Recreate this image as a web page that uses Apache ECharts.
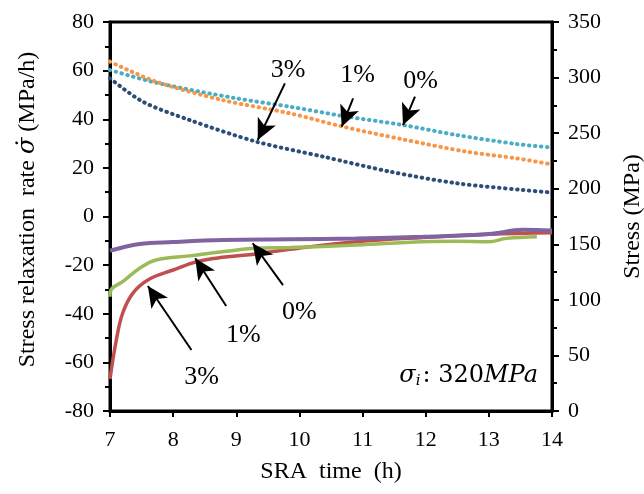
<!DOCTYPE html>
<html><head><meta charset="utf-8">
<script src="https://cdn.jsdelivr.net/npm/echarts@6/dist/echarts.min.js"></script>
<style>html,body{margin:0;padding:0;background:#fff}#c{width:644px;height:494px}</style>
</head><body><div id="c"></div>
<script>
// Stress (right axis, MPa) vs SRA time (h) — dotted series
const stress0 = [[7.0,306.8],[7.73,295.4],[9.0,281.3],[9.85,273.8],[10.69,265.4],[11.64,257.3],[12.49,248.3],[13.44,240.2],[13.95,237.3]];
const stress1 = [[7.0,314.3],[7.73,296.3],[8.78,279.8],[9.85,267.8],[10.69,255.8],[11.64,244.4],[12.65,233.3],[13.44,227.3],[13.97,222.2]];
const stress3 = [[7.0,299.3],[7.52,278.3],[8.26,261.8],[9.32,242.3],[10.38,228.8],[11.44,215.3],[12.49,204.9],[13.54,198.8],[13.97,196.7]];
// Stress relaxation rate (left axis, MPa/h) — solid series
const rate0 = [[7.0,-14.1],[7.47,-11.3],[8.0,-10.5],[8.8,-9.7],[9.85,-9.4],[10.9,-9.0],[11.96,-8.3],[13.0,-7.2],[13.54,-5.5],[14.0,-5.8]];
const rate1 = [[7.0,-33.0],[7.02,-30.0],[7.2,-26.8],[7.47,-21.3],[7.73,-17.9],[8.26,-16.2],[8.78,-14.5],[9.32,-13.1],[9.85,-12.8],[10.9,-11.7],[11.96,-10.4],[12.49,-10.2],[13.0,-10.4],[13.28,-9.0],[13.76,-8.3]];
const rate3 = [[7.0,-66.8],[7.1,-50.8],[7.2,-39.8],[7.36,-31.6],[7.6,-26.1],[8.0,-22.0],[8.37,-18.6],[8.78,-16.8],[9.32,-15.4],[9.85,-13.5],[10.9,-10.4],[11.96,-8.6],[13.0,-7.3],[14.0,-6.7]];
// Annotation arrows (data coordinates): [fromX, fromY, toX, toY]
const arrowsStress = [[9.77,294.8,9.34,243.8],[10.85,281.3,10.67,255.8],[11.83,282.8,11.64,257.3]];
const labelsStress = [['3%',9.82,307],['1%',10.92,302],['0%',11.92,297]];
const arrowsRate = [[9.74,-28.2,9.26,-11.0],[8.84,-36.8,8.35,-17.2],[8.29,-54.9,7.60,-28.6]];
const labelsRate = [['0%',10.0,-39.2],['1%',9.11,-48.7],['3%',8.45,-66.0]];

const FONT = '"Liberation Serif","Times New Roman",serif';
const chart = echarts.init(document.getElementById('c'));

function arrowLines(arr){
  return arr.map(a => [{coord:[a[0],a[1]]},{coord:[a[2],a[3]]}]);
}
function labelPoints(arr){
  return arr.map(l => ({coord:[l[1],l[2]], value:l[0]}));
}
const dotStyle = c => ({color:c, width:4, type:[0.5,5.5], cap:'round'});

chart.setOption({
  animation:false,
  grid:{left:110, right:92, top:22, bottom:83, show:true, borderColor:'#000', borderWidth:3,
    containLabel:false, outerBoundsMode:'none'},
  xAxis:{type:'value', min:7, max:14, interval:1,
    name:'SRA  time  (h)', nameLocation:'middle', nameGap:49,
    nameTextStyle:{fontFamily:FONT, fontSize:24, color:'#000'},
    axisLine:{onZero:false, lineStyle:{color:'#000', width:3}},
    axisTick:{length:6, lineStyle:{color:'#000', width:2}},
    axisLabel:{fontFamily:FONT, fontSize:22, color:'#000', margin:18},
    splitLine:{show:false}},
  yAxis:[{type:'value', min:-80, max:80, interval:20, position:'left',
    name:'Stress relaxation  rate {g|σ̇} (MPa/h)', nameLocation:'middle', nameGap:70,
    nameTextStyle:{fontFamily:FONT, fontSize:24, color:'#000', padding:[0,0,0,14],
      rich:{g:{fontFamily:'"DejaVu Serif",serif', fontStyle:'italic', fontSize:24, color:'#000'}}},
    axisLine:{show:true, onZero:false, lineStyle:{color:'#000', width:3}},
    axisTick:{length:7, lineStyle:{color:'#000', width:2}},
    minorTick:{show:true, splitNumber:2, length:5, lineStyle:{color:'#000', width:2}},
    axisLabel:{fontFamily:FONT, fontSize:22, color:'#000', margin:16},
    splitLine:{show:false}},
   {type:'value', min:0, max:350, interval:50, position:'right',
    name:'Stress (MPa)', nameLocation:'middle', nameGap:69,
    nameTextStyle:{fontFamily:FONT, fontSize:24, color:'#000', padding:[0,0,4,0]},
    axisLine:{show:true, onZero:false, lineStyle:{color:'#000', width:3}},
    axisTick:{length:7, lineStyle:{color:'#000', width:2}},
    minorTick:{show:true, splitNumber:2, length:5, lineStyle:{color:'#000', width:2}},
    axisLabel:{fontFamily:FONT, fontSize:22, color:'#000', margin:16},
    splitLine:{show:false}}],
  series:[
    {type:'line', yAxisIndex:1, data:stress0, showSymbol:false, smooth:0.3, lineStyle:dotStyle('#4BACC6'), z:3},
    {type:'line', yAxisIndex:1, data:stress1, showSymbol:false, smooth:0.3, lineStyle:dotStyle('#F79646'), z:3},
    {type:'line', yAxisIndex:1, data:stress3, showSymbol:false, smooth:0.3, lineStyle:dotStyle('#2C4D75'), z:3,
      markLine:{silent:true, symbol:['none','arrow'], symbolSize:[15,21], label:{show:false},
        lineStyle:{color:'#000', width:2, type:'solid'}, data:arrowLines(arrowsStress)},
      markPoint:{silent:true, symbol:'circle', symbolSize:0,
        label:{show:true, formatter:p=>p.value, fontFamily:FONT, fontSize:26, color:'#000'},
        data:labelPoints(labelsStress)}},
    {type:'line', yAxisIndex:0, data:rate3, showSymbol:false, smooth:0.4, lineStyle:{color:'#C0504D', width:3.5}, z:4},
    {type:'line', yAxisIndex:0, data:rate1, showSymbol:false, smooth:0.4, lineStyle:{color:'#9BBB59', width:3.5}, z:4},
    {type:'line', yAxisIndex:0, data:rate0, showSymbol:false, smooth:0.4, lineStyle:{color:'#8064A2', width:4}, z:5,
      markLine:{silent:true, symbol:['none','arrow'], symbolSize:[15,21], label:{show:false},
        lineStyle:{color:'#000', width:2, type:'solid'}, data:arrowLines(arrowsRate)},
      markPoint:{silent:true, symbol:'circle', symbolSize:0,
        label:{show:true, formatter:p=>p.value, fontFamily:FONT, fontSize:26, color:'#000'},
        data:labelPoints(labelsRate)}}
  ],
  graphic:[{type:'text', right:106, top:364, z:10,
    style:{text:'{i|σ}{s|i}{n|: 320}{i|MPa}', rich:{
      i:{fontFamily:'"DejaVu Serif",serif', fontStyle:'italic', fontSize:24, fill:'#000'},
      s:{fontFamily:'"DejaVu Serif",serif', fontStyle:'italic', fontSize:15, fill:'#000', padding:[10,2,0,0]},
      n:{fontFamily:'"DejaVu Serif",serif', fontSize:24, fill:'#000'}}}}]
});
</script></body></html>
